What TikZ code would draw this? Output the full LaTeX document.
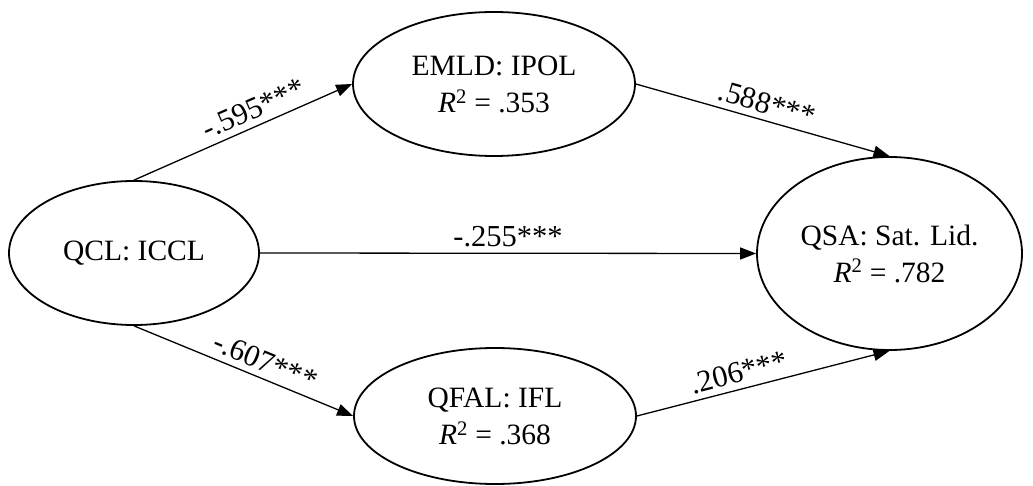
\documentclass[tikz,border=0pt]{standalone}
\usepackage{fontspec}
\setmainfont{Liberation Serif}
\usetikzlibrary{shapes.geometric,arrows.meta}
\begin{document}
\begin{tikzpicture}[x=1pt,y=-1pt,
  latent/.style={ellipse, draw, line width=1.8pt, inner sep=0pt,
    align=center, font=\fontsize{29.5}{37}\selectfont},
  path/.style={line width=1.3pt, -{Triangle[length=16pt,width=12pt]}},
  coef/.style={sloped, above, inner sep=6pt, font=\fontsize{30.5}{34}\selectfont}]
  \useasboundingbox (0,0) rectangle (1033,486);
  % latent constructs
  \node[latent, minimum width=250pt, minimum height=144pt] (qcl) at (134,253) {QCL: ICCL};
  \node[latent, minimum width=282pt, minimum height=144pt] (emld) at (494,84)
    {EMLD: IPOL\\\textit{R}\textsuperscript{2} = .353};
  \node[latent, minimum width=282pt, minimum height=136pt] (qfal) at (495,416)
    {QFAL: IFL\\\textit{R}\textsuperscript{2} = .368};
  \node[latent, minimum width=265pt, minimum height=193pt] (qsa) at (889.5,253.5)
    {QSA: Sat. Lid.\\\textit{R}\textsuperscript{2} = .782};
  % structural paths
  \draw[path] (qcl.north) -- node[coef, pos=0.58] {-.595***} (emld.west);
  \draw[path] (qcl.east) -- node[coef, pos=0.5] {-.255***} (qsa.west);
  \draw[path] (qcl.south) -- node[coef, pos=0.57] {-.607***} (qfal.west);
  \draw[path] (emld.east) -- node[coef, pos=0.5] {.588***} (qsa.north);
  \draw[path] (qfal.east) -- node[coef, pos=0.42] {.206***} (qsa.south);
\end{tikzpicture}
\end{document}
